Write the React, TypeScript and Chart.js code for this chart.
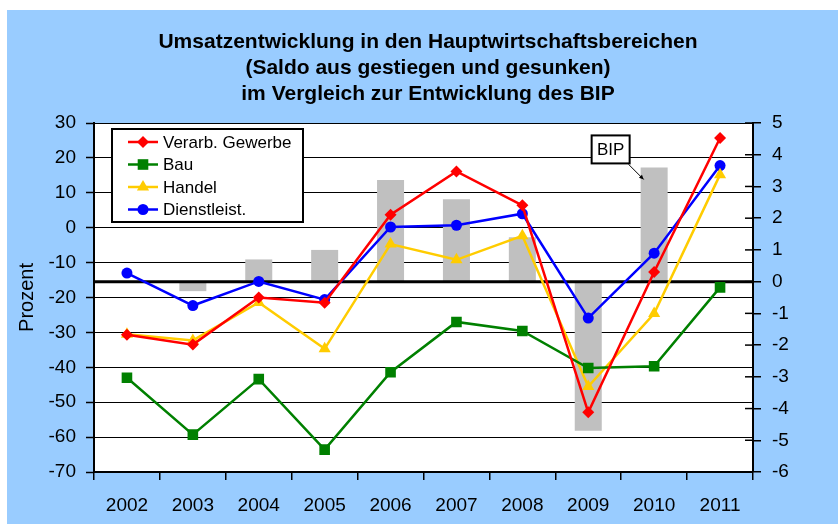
import React, { useEffect, useRef } from 'react';
import { Chart, registerables } from 'chart.js';

Chart.register(...registerables);

const years = ['2002', '2003', '2004', '2005', '2006', '2007', '2008', '2009', '2010', '2011'];
const verarbGewerbe = [-30.7, -33.5, -20, -21.5, 3.7, 16.1, 6.4, -52.9, -12.7, 25.7];
const bau = [-43, -59.3, -43.4, -63.6, -41.4, -27, -29.6, -40.2, -39.7, -17.1];
const handel = [-30.5, -32.3, -21.4, -34.7, -4.7, -9.2, -2.3, -45.5, -24.6, 15.2];
const dienstleist = [-13, -22.3, -15.4, -20.6, 0.2, 0.7, 4, -25.9, -7.3, 17.8];
const bip: (number | null)[] = [0, -0.3, 0.7, 1.0, 3.2, 2.6, 1.4, -4.7, 3.6, null];

const leftAxis = { min: -70, max: 30, step: 10 };
const rightAxis = { min: -6, max: 5, step: 1 };

const titleLines = [
  'Umsatzentwicklung in den Hauptwirtschaftsbereichen',
  '(Saldo aus gestiegen und gesunken)',
  'im Vergleich zur Entwicklung des BIP',
];
const axisTitle = 'Prozent';
const bipLabel = 'BIP';

const FONT = '"Liberation Sans", Arial, Helvetica, sans-serif';

function drawMarker(ctx: CanvasRenderingContext2D, style: string, x: number, y: number, r: number, color: string) {
  ctx.save();
  ctx.fillStyle = color;
  ctx.beginPath();
  if (style === 'rectRot') {
    ctx.moveTo(x, y - r);
    ctx.lineTo(x + r, y);
    ctx.lineTo(x, y + r);
    ctx.lineTo(x - r, y);
    ctx.closePath();
  } else if (style === 'rect') {
    const s = r * Math.SQRT1_2;
    ctx.rect(x - s, y - s, 2 * s, 2 * s);
  } else if (style === 'triangle') {
    ctx.moveTo(x, y - r);
    ctx.lineTo(x + r * 0.87, y + r * 0.5);
    ctx.lineTo(x - r * 0.87, y + r * 0.5);
    ctx.closePath();
  } else {
    ctx.arc(x, y, r, 0, Math.PI * 2);
  }
  ctx.fill();
  ctx.restore();
}

const decorPlugin = {
  id: 'decor',
  beforeDraw(chart: any) {
    const { ctx, width, height, chartArea } = chart;
    ctx.save();
    ctx.fillStyle = '#ffffff';
    ctx.fillRect(0, 0, width, height);
    ctx.fillStyle = '#99CCFF';
    ctx.fillRect(7, 10, width - 7, height - 10);
    ctx.fillStyle = '#ffffff';
    ctx.fillRect(chartArea.left, chartArea.top, chartArea.right - chartArea.left, chartArea.bottom - chartArea.top);
    ctx.fillStyle = '#000';
    ctx.font = `bold 21px ${FONT}`;
    ctx.textAlign = 'center';
    ctx.textBaseline = 'middle';
    const ys = [42, 68, 94];
    titleLines.forEach((t, i) => ctx.fillText(t, 428, ys[i]));
    ctx.restore();
  },
  afterDatasetDraw(chart: any, args: any) {
    if (args.meta.type !== 'bar') return;
    const { ctx, chartArea, scales } = chart;
    const y0 = scales.y1.getPixelForValue(0);
    ctx.save();
    ctx.strokeStyle = '#000';
    ctx.lineWidth = 3;
    ctx.beginPath();
    ctx.moveTo(chartArea.left, y0);
    ctx.lineTo(chartArea.right, y0);
    ctx.stroke();
    ctx.restore();
  },
  afterDraw(chart: any) {
    const { ctx, chartArea, scales } = chart;
    ctx.save();
    // inward ticks on right axis
    ctx.strokeStyle = '#000';
    ctx.lineWidth = 1.5;
    scales.y1.ticks.forEach((t: any) => {
      const y = scales.y1.getPixelForValue(t.value);
      ctx.beginPath();
      ctx.moveTo(chartArea.right - 8, y);
      ctx.lineTo(chartArea.right, y);
      ctx.stroke();
    });

    // legend
    const lx = chartArea.left + 18;
    const ly = chartArea.top + 6;
    const lw = 191;
    const lh = 93;
    ctx.fillStyle = '#fff';
    ctx.fillRect(lx, ly, lw, lh);
    ctx.strokeStyle = '#000';
    ctx.lineWidth = 2;
    ctx.strokeRect(lx, ly, lw, lh);
    const lineDs = chart.data.datasets.filter((d: any) => d.type === 'line');
    ctx.font = `17px ${FONT}`;
    ctx.textAlign = 'left';
    ctx.textBaseline = 'middle';
    lineDs.forEach((d: any, i: number) => {
      const ry = ly + 13 + i * 22.5;
      ctx.strokeStyle = d.borderColor;
      ctx.lineWidth = 2.5;
      ctx.beginPath();
      ctx.moveTo(lx + 16, ry);
      ctx.lineTo(lx + 46, ry);
      ctx.stroke();
      drawMarker(ctx, d.pointStyle, lx + 31, ry, d.pointRadius, d.pointBackgroundColor);
      ctx.fillStyle = '#000';
      ctx.fillText(d.label, lx + 51, ry + 1);
    });

    // BIP callout
    const barMeta = chart.getSortedVisibleDatasetMetas().find((m: any) => m.type === 'bar');
    if (barMeta) {
      const el = barMeta.data[8];
      const barLeft = el.x - el.width / 2;
      const barTop = el.y;
      const bx2 = barLeft - 11;
      const by2 = barTop - 4;
      const bw = 38;
      const bh = 28;
      ctx.fillStyle = '#fff';
      ctx.fillRect(bx2 - bw, by2 - bh, bw, bh);
      ctx.strokeStyle = '#000';
      ctx.lineWidth = 2;
      ctx.strokeRect(bx2 - bw, by2 - bh, bw, bh);
      ctx.fillStyle = '#000';
      ctx.font = `17px ${FONT}`;
      ctx.textAlign = 'center';
      ctx.textBaseline = 'middle';
      ctx.fillText(bipLabel, bx2 - bw / 2, by2 - bh / 2 + 1);
      // arrow
      const ax1 = bx2 - 1, ay1 = by2 + 1;
      const ax2 = barLeft + 3, ay2 = barTop + 12;
      ctx.lineWidth = 1;
      ctx.beginPath();
      ctx.moveTo(ax1, ay1);
      ctx.lineTo(ax2, ay2);
      ctx.stroke();
      const ang = Math.atan2(ay2 - ay1, ax2 - ax1);
      ctx.beginPath();
      ctx.moveTo(ax2, ay2);
      ctx.lineTo(ax2 - 5 * Math.cos(ang - 0.45), ay2 - 5 * Math.sin(ang - 0.45));
      ctx.lineTo(ax2 - 5 * Math.cos(ang + 0.45), ay2 - 5 * Math.sin(ang + 0.45));
      ctx.closePath();
      ctx.fill();
    }
    ctx.restore();
  },
};

function lineDataset(label: string, data: number[], color: string, pointStyle: string, radius: number) {
  return {
    type: 'line' as const,
    label,
    data,
    yAxisID: 'y',
    borderColor: color,
    backgroundColor: color,
    pointBackgroundColor: color,
    pointBorderColor: color,
    pointBorderWidth: 0,
    borderWidth: 2.5,
    pointStyle,
    pointRadius: radius,
    tension: 0,
    order: 0,
  };
}

export default function App() {
  const ref = useRef<HTMLCanvasElement | null>(null);
  useEffect(() => {
    if (!ref.current) return;
    const chart = new Chart(ref.current, {
      data: {
        labels: years,
        datasets: [
          lineDataset('Verarb. Gewerbe', verarbGewerbe, '#FF0000', 'rectRot', 6),
          lineDataset('Bau', bau, '#008000', 'rect', 7.5),
          lineDataset('Handel', handel, '#FFCC00', 'triangle', 7),
          lineDataset('Dienstleist.', dienstleist, '#0000FF', 'circle', 5.5),
          {
            type: 'bar' as const,
            label: 'BIP',
            data: bip,
            yAxisID: 'y1',
            backgroundColor: '#C0C0C0',
            borderWidth: 0,
            barPercentage: 0.41,
            categoryPercentage: 1,
            order: 10,
          },
        ] as any,
      },
      options: {
        animation: false,
        responsive: false,
        layout: { padding: { top: 123, left: 0, right: 0, bottom: 0 } },
        plugins: {
          legend: { display: false },
          title: { display: false },
          tooltip: { enabled: false },
        },
        scales: {
          x: {
            offset: true,
            grid: { offset: true, drawOnChartArea: false, tickLength: 8, color: '#000', lineWidth: 1.5 },
            border: { color: '#000', width: 2 },
            ticks: { color: '#000', font: { family: FONT, size: 19 }, padding: 14, maxRotation: 0 },
            afterFit: (s: any) => { s.height = 52; },
          },
          y: {
            position: 'left',
            min: leftAxis.min,
            max: leftAxis.max,
            grid: { color: '#000', lineWidth: 1, tickLength: 8, tickColor: '#000', tickWidth: 1.5 },
            border: { color: '#000', width: 2 },
            ticks: { stepSize: leftAxis.step, color: '#000', font: { family: FONT, size: 19 }, padding: 10 },
            title: { display: true, text: axisTitle, color: '#000', font: { family: FONT, size: 20 }, padding: { top: 15, bottom: 0 } },
            afterFit: (s: any) => { s.width = 94; },
          },
          y1: {
            position: 'right',
            min: rightAxis.min,
            max: rightAxis.max,
            grid: { drawOnChartArea: false, tickLength: 8, color: '#000', lineWidth: 1.5 },
            border: { color: '#000', width: 2 },
            ticks: { stepSize: rightAxis.step, color: '#000', font: { family: FONT, size: 19 }, padding: 11 },
            afterFit: (s: any) => { s.width = 85; },
          },
        },
      } as any,
      plugins: [decorPlugin],
    });
    return () => chart.destroy();
  }, []);
  return (
    <div style={{ position: 'absolute', left: 0, top: 0, width: 838, height: 524 }}>
      <canvas ref={ref} width={838} height={524} />
    </div>
  );
}
